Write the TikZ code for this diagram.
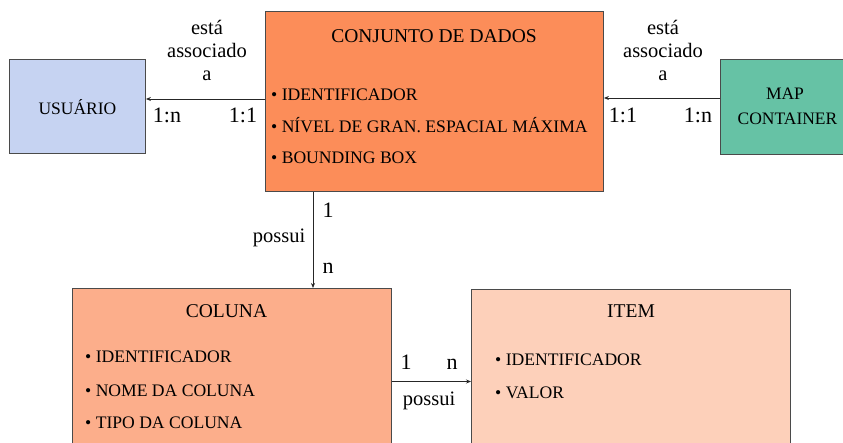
\documentclass[tikz,border=0pt]{standalone}
\usepackage{fontspec}
\setmainfont{Liberation Serif}
\usetikzlibrary{arrows.meta}
\definecolor{cdcol}{HTML}{FC8D59}
\definecolor{uscol}{HTML}{C6D3F2}
\definecolor{mccol}{HTML}{66C2A5}
\definecolor{colcol}{HTML}{FCAE8B}
\definecolor{itcol}{HTML}{FDD0BA}
\definecolor{bordercol}{HTML}{4A4A4A}
\tikzset{
  box/.style={draw=bordercol, line width=0.9pt, rectangle, anchor=north west, inner sep=0pt},
  ttl/.style={font=\fontsize{19.5}{22}\selectfont, anchor=base, inner sep=0pt},
  itm/.style={font=\fontsize{17.6}{20}\selectfont, anchor=base west, inner sep=0pt},
  nm/.style={font=\fontsize{17.5}{20}\selectfont, anchor=base, inner sep=0pt},
  lbl/.style={font=\fontsize{20.5}{22}\selectfont, anchor=base, inner sep=0pt},
  card/.style={font=\fontsize{22}{24}\selectfont, anchor=base, inner sep=0pt},
  arr/.style={draw=black!85, line width=0.8pt, -{Stealth[length=5pt,width=4pt]}},
}
\begin{document}
\begin{tikzpicture}[x=1pt,y=-1pt]
\useasboundingbox (0,0) rectangle (843,443);
\clip (0,0) rectangle (843,443);
% boxes
\node[box, fill=uscol, minimum width=136pt, minimum height=94pt] (us) at (9,59) {};
\node[box, fill=cdcol, minimum width=338pt, minimum height=180pt] (cd) at (265,11) {};
\node[box, fill=mccol, minimum width=140pt, minimum height=95pt] (mc) at (720,59) {};
\node[box, fill=colcol, minimum width=319pt, minimum height=180pt] (col) at (72,288) {};
\node[box, fill=itcol, minimum width=319pt, minimum height=180pt] (it) at (471,289) {};
% connector anchors
\coordinate (a1) at (0,99);
\coordinate (a2) at (0,98);
\coordinate (v) at (313,0);
\coordinate (h) at (0,381.5);
\draw[arr] (cd.west |- a1) -- (us.east |- a1);
\draw[arr] (mc.west |- a2) -- (cd.east |- a2);
\draw[arr] (cd.south -| v) -- (col.north -| v);
\draw[arr] (col.east |- h) -- (it.west |- h);
% texts conjunto
\node[ttl] (cdt) at (434,43) {CONJUNTO DE DADOS};
\node[itm] (cd1) at (271,100.5) {• IDENTIFICADOR};
\node[itm] (cd2) at (271,132.5) {• NÍVEL DE GRAN. ESPACIAL MÁXIMA};
\node[itm] (cd3) at (271,164) {• BOUNDING BOX};
% usuario, map
\node[nm] (ust) at (77.5,115) {USUÁRIO};
\node[nm] (mct1) at (785,100) {MAP};
\node[nm] (mct2) at (787.5,125) {CONTAINER};
% coluna
\node[ttl] (colt) at (226.5,318) {COLUNA};
\node[itm] (col1) at (85,362.5) {• IDENTIFICADOR};
\node[itm] (col2) at (85,396) {• NOME DA COLUNA};
\node[itm] (col3) at (85,428) {• TIPO DA COLUNA};
% item
\node[ttl] (itt) at (631,318) {ITEM};
\node[itm] (it1) at (495,366) {• IDENTIFICADOR};
\node[itm] (it2) at (495,399) {• VALOR};
% relation labels
\node[lbl] (l1a) at (207,35) {está};
\node[lbl] (l1b) at (207,58) {associado};
\node[lbl] (l1c) at (207,81) {a};
\node[lbl] (l2a) at (663,35) {está};
\node[lbl] (l2b) at (663,58) {associado};
\node[lbl] (l2c) at (663,81) {a};
\node[card] (c1) at (167,123) {1:n};
\node[card] (c2) at (243,123) {1:1};
\node[card] (c3) at (623,123) {1:1};
\node[card] (c4) at (698,123) {1:n};
\node[card] (c5) at (328,218) {1};
\node[lbl] (p1) at (279,243) {possui};
\node[card] (c6) at (328,274) {n};
\node[card] (c7) at (406,370) {1};
\node[card] (c8) at (452,370) {n};
\node[lbl] (p2) at (429,405) {possui};
\end{tikzpicture}
\end{document}
